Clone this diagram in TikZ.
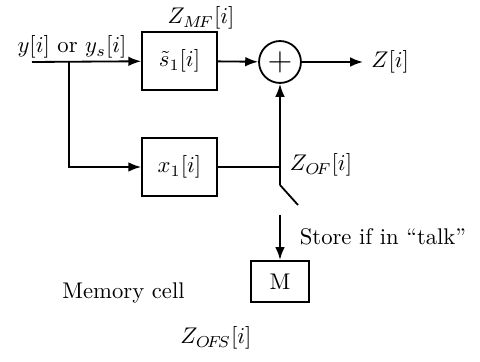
\documentclass[tikz,border=0pt]{standalone}
\usepackage{amsmath,amssymb}
\usetikzlibrary{arrows.meta, calc, positioning}

\begin{document}
\begin{tikzpicture}[x=0.0155cm, y=-0.0155cm,
  >={Latex[length=2mm, width=1.5mm]},
  line width=0.8pt,
  blockbox/.style={draw, minimum width=1.16cm, minimum height=0.9cm, inner sep=0pt},
  sumnode/.style={draw, circle, minimum size=0.65cm, inner sep=0pt},
  memorybox/.style={draw, minimum width=0.9cm, minimum height=0.64cm, inner sep=0pt}]

% Frame of the picture
\useasboundingbox (0,0) rectangle (480,362);

% ================================================================
% Blocks
% ================================================================
\node[blockbox] (mf) at (179.5,61) {$\tilde{s}_1[i]$};
\node[blockbox] (of) at (179.5,167) {$x_1[i]$};
\node[sumnode] (sum) at (280,62) {\Large$+$};
\node[memorybox] (mem) at (280,281.5) {M};

% ================================================================
% Input and branch
% ================================================================
\coordinate (in) at (32,62);
\coordinate (split) at (69,62);
\coordinate (out) at (363,62);
\coordinate (join) at (280,167);
\coordinate (swtop) at (280,185);
\coordinate (swend) at (298,205);
\coordinate (store) at (280,215);

\draw[->] (in) -- (mf);
\draw[->] (split) |- (of);
\draw[->] (mf) -- (sum);
\draw[->] (sum) -- (out);

% output of x1 block to switch
\draw (of.east) -- (join);
\draw[->] (swtop) -- (sum);
\draw (swtop) -- (swend);
\draw[->] (store) -- (mem);

% ================================================================
% Labels
% ================================================================
\node[anchor=base] (inlabel) at (72,53) {$y[i]$ or $y_s[i]$};
\node (zout) [right=0pt of out] {$Z[i]$};
\node (zmf) at (201,18) {$Z_{M\!F}[i]$};
\node (zof) at (321,165) {$Z_{O\!F}[i]$};
\node (storelabel) at (383,237) {Store if in ``talk''};
\node (memlabel) at (123.5,293) {Memory cell};
\node (zofs) at (216,338) {$Z_{O\!F\!S}[i]$};

\end{tikzpicture}
\end{document}
